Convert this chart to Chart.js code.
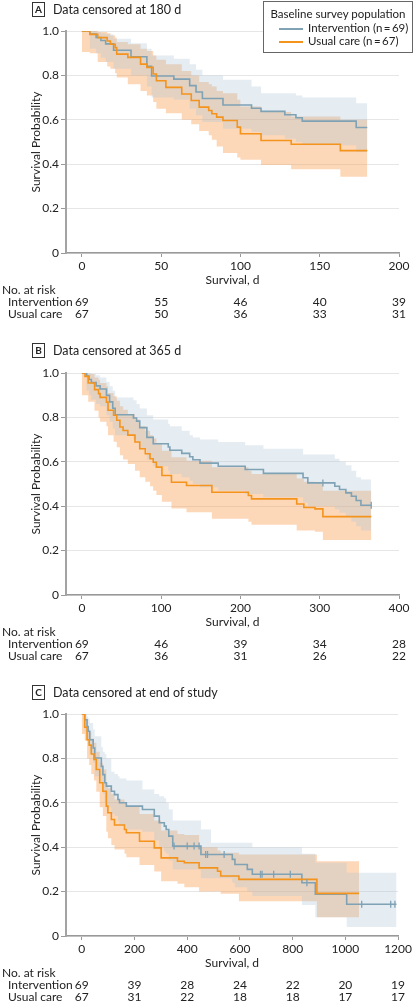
<!DOCTYPE html>
<html>
<head>
<meta charset="utf-8">
<script src="https://cdn.jsdelivr.net/npm/chart.js@4.4.1/dist/chart.umd.min.js"></script>
<style>
  body { margin: 0; background: #fff; font-family: Lato, "Noto Sans", sans-serif; color: #222; }
  #page { position: relative; width: 414px; height: 1005px; overflow: hidden; }
  .panel { position: absolute; left: 0; width: 414px; height: 330px; }
  .ptitle { position: absolute; left: 32px; height: 16px; font-size: 12.5px; line-height: 16px; white-space: nowrap; }
  .ptitle b { display: inline-block; box-sizing: border-box; width: 13px; height: 15px; border: 1px solid #333;
    font-size: 10px; line-height: 13px; text-align: center; margin-right: 8px; vertical-align: top; }
  .legend { position: absolute; left: 263px; top: 1px; width: 150px; height: 52px; box-sizing: border-box;
    border: 1px solid #666; background: #fff; font-size: 11.5px; }
  .legend .lt { position: absolute; left: 0; right: 0; top: 5px; text-align: center; }
  .legend .row { position: absolute; left: 15px; height: 14px; line-height: 14px; white-space: nowrap; }
  .legend .sw { display: inline-block; width: 24px; height: 0; border-top: 2px solid; vertical-align: middle; margin-right: 5px; }
</style>
</head>
<body>
<div id="page">
  <div class="panel" style="top:0"><canvas id="chartA"></canvas></div>
  <div class="panel" style="top:342px"><canvas id="chartB"></canvas></div>
  <div class="panel" style="top:683px"><canvas id="chartC"></canvas></div>

  <div class="ptitle" style="top:2px"><b>A</b>Data censored at 180 d</div>
  <div class="ptitle" style="top:343px"><b>B</b>Data censored at 365 d</div>
  <div class="ptitle" style="top:685px"><b>C</b>Data censored at end of study</div>

  <div class="legend">
    <div class="lt">Baseline survey population</div>
    <div class="row" style="top:19px"><span class="sw" style="border-color:#7fa2b5"></span>Intervention (n&#8201;=&#8201;69)</div>
    <div class="row" style="top:32px"><span class="sw" style="border-color:#f4941c"></span>Usual care (n&#8201;=&#8201;67)</div>
  </div>
</div>

<script>
// axis ticks
const yTicks = [0, 0.2, 0.4, 0.6, 0.8, 1.0];
const ticksA = [0, 50, 100, 150, 200];
const ticksB = [0, 100, 200, 300, 400];
const ticksC = [0, 200, 400, 600, 800, 1000, 1200];

// number at risk
const riskIntA = [69, 55, 46, 40, 39];
const riskUcA = [67, 50, 36, 33, 31];
const riskIntB = [69, 46, 39, 34, 28];
const riskUcB = [67, 36, 31, 26, 22];
const riskIntC = [69, 39, 28, 24, 22, 20, 19];
const riskUcC = [67, 31, 22, 18, 18, 17, 17];

// A: censored at 180 d
const aIntT = [0, 5, 9, 12, 15, 20, 31, 41, 44, 58, 68, 72, 76, 89, 107, 113, 128, 135, 139, 173, 180];
const aIntS = [1, .986, .971, .957, .942, .913, .884, .841, .797, .783, .754, .725, .696, .667, .652, .638, .623, .609, .594, .565, .565];
const aIntHi = [1, 1, .995, .99, .985, .965, .945, .92, .89, .875, .85, .825, .80, .78, .75, .72, .72, .71, .70, .675, .675];
const aIntLo = [1, .92, .90, .88, .86, .83, .80, .75, .70, .69, .65, .62, .59, .56, .545, .53, .515, .50, .485, .455, .455];
const aUcT = [0, 5, 10, 16, 18, 21, 22, 29, 37, 41, 45, 47, 53, 63, 69, 74, 80, 82, 85, 89, 98, 100, 113, 132, 163, 180];
const aUcS = [1, .985, .970, .955, .940, .925, .896, .881, .851, .836, .806, .776, .746, .716, .687, .657, .642, .627, .612, .597, .567, .537, .507, .490, .461, .461];
const aUcHi = [1, 1, .995, .99, .98, .97, .95, .94, .92, .91, .89, .87, .85, .82, .80, .77, .76, .75, .73, .72, .69, .66, .635, .615, .60, .60];
const aUcLo = [.905, .90, .86, .84, .83, .81, .79, .76, .73, .71, .68, .65, .63, .60, .58, .55, .53, .51, .48, .45, .43, .42, .396, .377, .344, .344];
const aCenT = [];
const aCenS = [];

// B: censored at 365 d
const bIntT = [0, 6, 9, 12, 18, 23, 31, 35, 39, 42, 65, 69, 73, 82, 90, 109, 111, 126, 136, 140, 149, 172, 206, 229, 279, 285, 319, 325, 333, 340, 346, 352, 365];
const bIntS = [1, .986, .971, .957, .942, .928, .899, .870, .841, .812, .797, .783, .754, .710, .681, .667, .652, .638, .623, .609, .594, .580, .565, .548, .528, .505, .490, .475, .460, .445, .426, .404, .404];
const bIntHi = [1, 1, 1, .995, .99, .98, .96, .94, .92, .89, .877, .86, .84, .81, .79, .77, .76, .74, .72, .71, .70, .689, .674, .659, .633, .633, .614, .60, .584, .56, .53, .52, .52];
const bIntLo = [1, .92, .90, .88, .86, .85, .81, .78, .75, .72, .70, .69, .66, .61, .58, .56, .545, .53, .515, .50, .485, .47, .455, .44, .415, .40, .385, .37, .35, .33, .31, .29, .29];
const bUcT = [0, 4, 8, 16, 21, 23, 31, 33, 40, 44, 48, 52, 58, 67, 73, 80, 86, 90, 94, 101, 113, 132, 164, 210, 214, 271, 280, 294, 304, 365];
const bUcS = [1, .985, .955, .925, .907, .89, .869, .832, .81, .787, .757, .741, .72, .689, .659, .636, .614, .598, .576, .538, .508, .493, .463, .448, .433, .41, .394, .388, .353, .353];
const bUcHi = [1, 1, .995, .98, .97, .955, .94, .91, .895, .875, .85, .835, .815, .79, .76, .74, .72, .705, .685, .65, .62, .605, .575, .56, .545, .525, .51, .505, .47, .47];
const bUcLo = [.90, .90, .87, .83, .80, .78, .76, .72, .69, .665, .63, .61, .59, .56, .53, .51, .49, .47, .45, .42, .39, .373, .343, .33, .317, .29, .29, .285, .248, .248];
const bCenT = [304, 365];
const bCenS = [.505, .404];

// C: censored at end of study
const cIntT = [0, 11, 20, 24, 30, 43, 49, 74, 80, 87, 93, 112, 124, 137, 143, 169, 230, 275, 294, 313, 320, 330, 345, 452, 490, 571, 581, 628, 647, 835, 886, 1005, 1194];
const cIntS = [1, .974, .944, .922, .884, .847, .802, .764, .727, .690, .675, .652, .637, .615, .600, .585, .570, .540, .510, .495, .480, .450, .405, .367, .367, .345, .322, .300, .278, .240, .188, .143, .143];
const cIntHi = [1, 1, .99, .98, .96, .93, .90, .85, .83, .82, .80, .74, .73, .72, .71, .70, .66, .64, .63, .62, .60, .57, .52, .48, .42, .42, .42, .42, .40, .37, .33, .285, .285];
const cIntLo = [1, .92, .89, .86, .82, .78, .72, .68, .64, .60, .58, .55, .54, .52, .50, .48, .47, .43, .40, .38, .37, .34, .30, .26, .26, .24, .22, .20, .18, .14, .085, .04, .04];
const cUcT = [0, 11, 20, 28, 36, 46, 55, 68, 80, 93, 99, 112, 124, 162, 169, 219, 275, 301, 363, 389, 445, 515, 527, 596, 892, 1052];
const cUcS = [1, .94, .884, .86, .82, .795, .75, .69, .652, .585, .555, .525, .50, .48, .465, .427, .397, .352, .337, .33, .307, .292, .27, .255, .192, .192];
const cUcHi = [1, .98, .94, .92, .89, .87, .83, .78, .75, .69, .665, .64, .615, .60, .585, .55, .52, .475, .46, .455, .40, .385, .375, .367, .337, .337];
const cUcLo = [.91, .88, .80, .77, .73, .70, .65, .58, .54, .47, .44, .41, .39, .37, .355, .32, .29, .247, .235, .22, .20, .20, .19, .157, .084, .084];
const cCenT = [350, 400, 426, 445, 470, 477, 540, 678, 684, 728, 791, 854, 1062, 1172, 1188];
const cCenS = [.405, .405, .405, .405, .367, .367, .367, .278, .278, .278, .278, .240, .143, .143, .143];

const blueLine = '#7fa2b5';
const orangeLine = '#f4941c';
const blueBand = 'rgba(175, 195, 215, 0.32)';
const orangeBand = 'rgba(248, 160, 85, 0.42)';
const FONT = 'Lato, "Noto Sans", sans-serif';

Chart.defaults.font.family = FONT;
Chart.defaults.color = '#222';

const pts = (t, v) => t.map((x, i) => ({ x, y: v[i] }));

const riskTable = {
  id: 'riskTable',
  afterDraw(chart, args, opts) {
    const { ctx } = chart;
    const xs = chart.scales.x;
    ctx.save();
    ctx.font = '12px ' + FONT;
    ctx.fillStyle = '#222';
    ctx.textBaseline = 'middle';
    ctx.textAlign = 'left';
    ctx.fillText('No. at risk', 2, 290);
    ctx.fillText('Intervention', 8, 302.5);
    ctx.fillText('Usual care', 8, 314.5);
    ctx.textAlign = 'center';
    opts.ticks.forEach((t, i) => {
      const px = xs.getPixelForValue(t);
      ctx.fillText(String(opts.int[i]), px, 302.5);
      ctx.fillText(String(opts.uc[i]), px, 314.5);
    });
    ctx.restore();
  }
};

function band(t, v, color, fill, order) {
  return {
    data: pts(t, v), stepped: true, borderWidth: 0, pointRadius: 0,
    backgroundColor: color, fill, order
  };
}

function kmChart(id, p) {
  new Chart(document.getElementById(id), {
    type: 'line',
    data: {
      datasets: [
        band(p.intT, p.intHi, blueBand, '+1', 3),
        band(p.intT, p.intLo, blueBand, false, 3),
        band(p.ucT, p.ucHi, orangeBand, '+1', 4),
        band(p.ucT, p.ucLo, orangeBand, false, 4),
        { data: pts(p.intT, p.intS), stepped: true, borderColor: blueLine, borderWidth: 1.6, pointRadius: 0, fill: false, order: 1 },
        { data: pts(p.ucT, p.ucS), stepped: true, borderColor: orangeLine, borderWidth: 1.6, pointRadius: 0, fill: false, order: 0 },
        { data: pts(p.cenT, p.cenS), showLine: false, pointStyle: 'line', pointRotation: 90, pointRadius: 3.5,
          pointBorderColor: blueLine, pointBorderWidth: 1.3, order: -1 }
      ]
    },
    options: {
      responsive: true,
      maintainAspectRatio: false,
      animation: false,
      layout: { padding: { left: 0, top: 31, right: 15, bottom: 0 } },
      scales: {
        x: {
          type: 'linear',
          min: p.xMin,
          max: p.ticks[p.ticks.length - 1],
          afterBuildTicks: (s) => { s.ticks = p.ticks.map(v => ({ value: v })); },
          afterFit: (s) => { s.height = 77; },
          grid: { drawOnChartArea: false, drawTicks: true, tickLength: 4, tickColor: '#999' },
          border: { color: '#999', width: 1.5 },
          ticks: { autoSkip: false, maxRotation: 0, padding: 2, font: { size: 12 }, color: '#222', callback: v => String(v) },
          title: { display: true, text: 'Survival, d', font: { size: 12 }, color: '#222', padding: { top: 0, bottom: 43 } }
        },
        y: {
          min: 0,
          max: 1,
          afterBuildTicks: (s) => { s.ticks = yTicks.map(v => ({ value: v })); },
          afterFit: (s) => { s.width = 66; },
          grid: { color: '#e6e6e6', lineWidth: 1, drawTicks: true, tickLength: 5, tickColor: '#999' },
          border: { color: '#a3a3a3', width: 2 },
          ticks: { padding: 2, font: { size: 12 }, color: '#222', callback: v => v === 0 ? '0' : v.toFixed(1) },
          title: { display: true, text: 'Survival Probability', font: { size: 12 }, color: '#222', padding: { top: 29, bottom: 0 } }
        }
      },
      plugins: {
        legend: { display: false },
        tooltip: { enabled: false },
        riskTable: { ticks: p.ticks, int: p.riskInt, uc: p.riskUc }
      }
    },
    plugins: [riskTable]
  });
}

kmChart('chartA', {
  xMin: -10, ticks: ticksA, riskInt: riskIntA, riskUc: riskUcA,
  intT: aIntT, intS: aIntS, intHi: aIntHi, intLo: aIntLo,
  ucT: aUcT, ucS: aUcS, ucHi: aUcHi, ucLo: aUcLo, cenT: aCenT, cenS: aCenS
});
kmChart('chartB', {
  xMin: -20, ticks: ticksB, riskInt: riskIntB, riskUc: riskUcB,
  intT: bIntT, intS: bIntS, intHi: bIntHi, intLo: bIntLo,
  ucT: bUcT, ucS: bUcS, ucHi: bUcHi, ucLo: bUcLo, cenT: bCenT, cenS: bCenS
});
kmChart('chartC', {
  xMin: -60, ticks: ticksC, riskInt: riskIntC, riskUc: riskUcC,
  intT: cIntT, intS: cIntS, intHi: cIntHi, intLo: cIntLo,
  ucT: cUcT, ucS: cUcS, ucHi: cUcHi, ucLo: cUcLo, cenT: cCenT, cenS: cCenS
});
</script>
</body>
</html>
